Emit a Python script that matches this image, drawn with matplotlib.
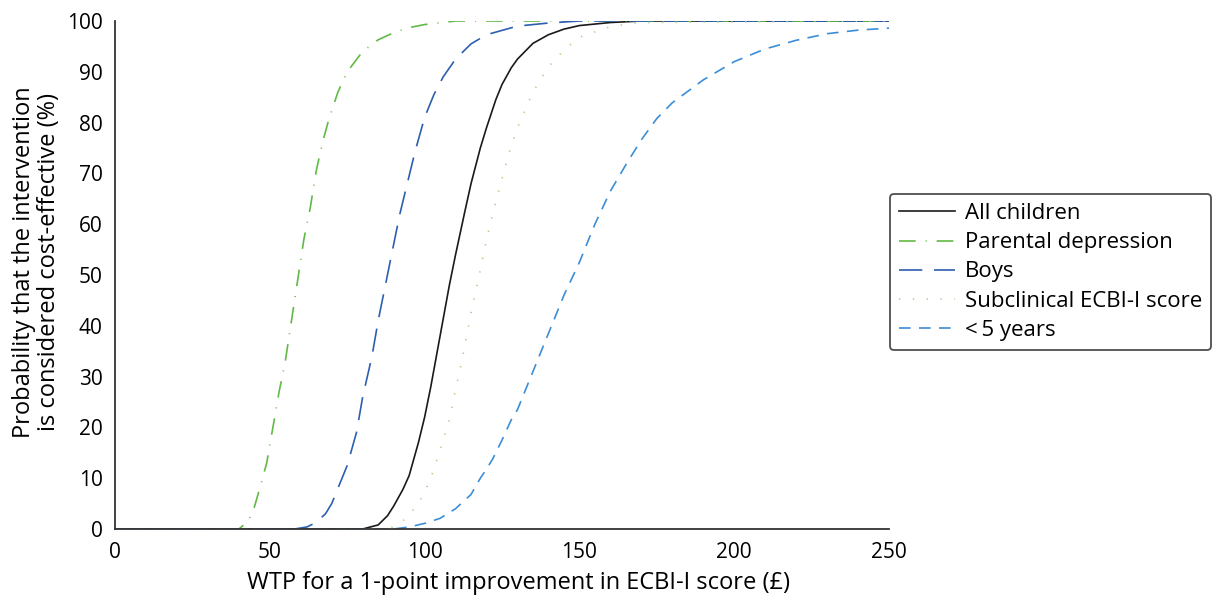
import numpy as np
import matplotlib
matplotlib.use('Agg')
import matplotlib.pyplot as plt

plt.rcParams['font.family'] = ['Open Sans', 'DejaVu Sans']

# willingness to pay (£) and probability cost-effective (%) for each subgroup
wtp_all = [0, 80, 85, 88, 90, 93, 95, 98, 100, 102, 105, 108, 110, 113, 115, 118, 120, 123, 125, 128, 130, 135, 140, 145, 150, 160, 170, 250]
p_all = [0, 0, 0.8, 2.6, 4.5, 7.8, 10.5, 17, 22, 28, 38, 48, 54, 62.5, 68, 75, 79, 84.5, 87.5, 90.8, 92.5, 95.6, 97.3, 98.4, 99.1, 99.7, 100, 100]

wtp_dep = [0, 40, 43, 45, 47, 49, 51, 53, 55, 57, 59, 61, 63, 65, 67, 69, 72, 75, 80, 85, 90, 95, 100, 110, 250]
p_dep = [0, 0, 1.5, 4.3, 8.5, 13, 20, 27, 33, 41, 49, 57, 63, 70.5, 76, 80.5, 86, 90, 94, 96.3, 97.7, 98.7, 99.3, 100, 100]

wtp_boys = [0, 58, 62, 65, 68, 70, 72, 75, 78, 80, 83, 85, 88, 90, 92, 95, 97, 100, 103, 106, 110, 115, 120, 130, 140, 150, 250]
p_boys = [0, 0, 0.4, 1.3, 3, 5, 8, 12.5, 19, 26, 34, 41, 50, 56, 62, 69.5, 74.5, 81, 85.5, 89, 92.5, 95.5, 97.3, 99, 99.6, 100, 100]

wtp_sub = [0, 88, 92, 95, 98, 100, 102, 105, 108, 110, 112, 115, 118, 120, 122, 125, 128, 130, 135, 140, 145, 150, 160, 170, 250]
p_sub = [0, 0, 1, 2.8, 5, 7.2, 10, 15.5, 21.5, 27.5, 33, 42.5, 51, 57, 62, 69, 75.5, 79, 86, 91, 94.3, 96.8, 98.9, 99.7, 100]

wtp_u5 = [0, 90, 95, 100, 105, 110, 115, 118, 120, 122, 125, 128, 130, 135, 140, 145, 150, 155, 160, 165, 170, 175, 180, 190, 200, 210, 220, 230, 240, 250]
p_u5 = [0, 0, 0.4, 1.1, 2.1, 4, 6.8, 10, 11.8, 13.8, 17.5, 21.5, 23.5, 31, 38.5, 46, 52.5, 60, 66.5, 71.7, 76.6, 80.8, 83.9, 88.4, 92, 94.5, 96.2, 97.5, 98.2, 98.6]

labels = ['All children', 'Parental depression', 'Boys', 'Subclinical ECBI-I score', '<\u20095 years']

fig = plt.figure(figsize=(12.14, 5.99), dpi=100)
ax = fig.add_axes([115/1214, 1 - 529/599, (889 - 115)/1214, (529 - 21)/599])

ax.plot(wtp_all, p_all, color='#1a1a1a', lw=1.2, label=labels[0])
ax.plot(wtp_dep, p_dep, color='#62b946', lw=1.2, dashes=(10, 6, 0.6, 6), label=labels[1])
ax.plot(wtp_boys, p_boys, color='#2d5fb0', lw=1.2, dashes=(14, 7), label=labels[2])
ax.plot(wtp_sub, p_sub, color='#a9d38c', lw=1.2, dashes=(0.8, 7.5), label=labels[3])
ax.plot(wtp_u5, p_u5, color='#3b8ed6', lw=1.2, dashes=(7, 5), label=labels[4])

ax.set_xlim(0, 250)
ax.set_ylim(0, 100)
ax.set_xticks([0, 50, 100, 150, 200, 250])
ax.set_yticks(range(0, 101, 10))
ax.tick_params(length=0, labelsize=15, pad=9)
ax.spines['top'].set_visible(False)
ax.spines['right'].set_visible(False)
for s in ['left', 'bottom']:
    ax.spines[s].set_linewidth(1.3)
    ax.spines[s].set_color('#333333')

ax.set_xlabel('WTP for a 1-point improvement in ECBI-I score (\u00a3)', fontsize=17, labelpad=6)
ax.xaxis.label.set_x(0.521)
ax.set_ylabel('Probability that the intervention\nis considered cost-effective (%)', fontsize=17, labelpad=4, linespacing=1.05)
ax.yaxis.label.set_y(0.526)

leg = fig.legend(loc='center left', bbox_to_anchor=(890/1214, 1 - 272/599), fontsize=16,
                 handlelength=2.5, handletextpad=0.45, labelspacing=0.37, borderpad=0.42,
                 borderaxespad=0, frameon=True, fancybox=True)
leg.get_frame().set_edgecolor('#222222')
leg.get_frame().set_linewidth(1.3)

fig.savefig('out.png', dpi=100)
